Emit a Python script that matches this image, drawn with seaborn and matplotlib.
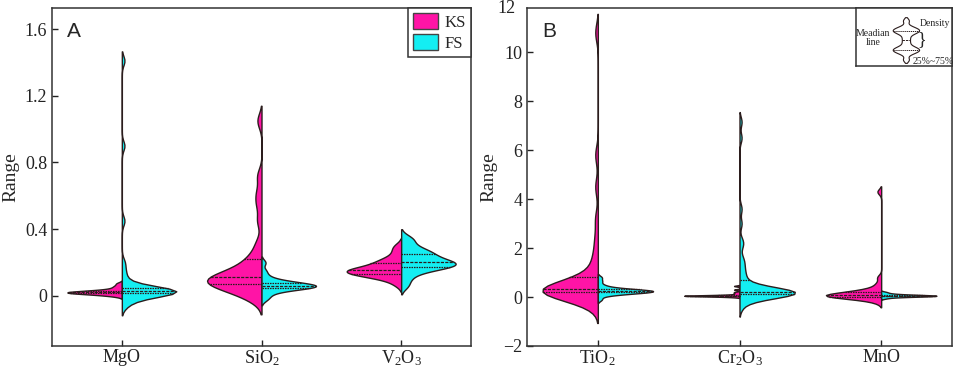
import numpy as np
import pandas as pd
import matplotlib
matplotlib.use('Agg')
import matplotlib.pyplot as plt
import matplotlib.transforms as mtransforms
from matplotlib.patches import Patch
import seaborn as sns

sns.set_style('ticks')
plt.rcParams['font.family'] = ['Liberation Serif', 'DejaVu Serif']
plt.rcParams['mathtext.fontset'] = 'custom'
plt.rcParams['mathtext.rm'] = 'Liberation Serif'
plt.rcParams['mathtext.it'] = 'Liberation Serif'

groups = ['KS', 'FS']
colors = {'KS': '#ff14a6', 'FS': '#14eef2'}
edge = '#2b1d1d'

# panel A
oxides_a = ['MgO', 'SiO2', 'V2O3']
labels_a = ['MgO', 'SiO$_2$', 'V$_2$O$_3$']
mgo_ks = [0.0, 0.005, 0.01, 0.012, 0.015, 0.017, 0.018, 0.02, 0.02, 0.021, 0.022,
          0.023, 0.025, 0.027, 0.03, 0.032, 0.035, 0.04, 0.05, 0.06, 0.075]
mgo_fs = [-0.06, -0.04, -0.02, -0.01, 0.0, 0.005, 0.01, 0.012, 0.015, 0.018, 0.02,
          0.022, 0.024, 0.025, 0.026, 0.028, 0.03, 0.032, 0.034, 0.036, 0.038, 0.04,
          0.042, 0.044, 0.045, 0.06, 0.08, 0.11, 0.15, 0.2, 0.45, 0.9, 1.41]
sio2_ks = [-0.02, 0.0, 0.02, 0.04, 0.05, 0.06, 0.065, 0.07, 0.075, 0.08, 0.09, 0.1,
           0.105, 0.11, 0.115, 0.12, 0.13, 0.14, 0.16, 0.18, 0.2, 0.22, 0.26, 0.32,
           0.45, 0.55, 0.62, 0.72, 1.05]
sio2_fs = [-0.02, 0.0, 0.02, 0.03, 0.04, 0.045, 0.048, 0.05, 0.052, 0.055, 0.058,
           0.06, 0.06, 0.062, 0.065, 0.068, 0.07, 0.075, 0.08, 0.085, 0.09, 0.1,
           0.12, 0.15, 0.2]
v2o3_ks = [0.07, 0.1, 0.11, 0.12, 0.125, 0.13, 0.135, 0.14, 0.145, 0.15, 0.15, 0.155,
           0.16, 0.165, 0.17, 0.18, 0.19, 0.2, 0.21, 0.22, 0.24, 0.27, 0.3]
v2o3_fs = [0.06, 0.1, 0.13, 0.15, 0.16, 0.17, 0.175, 0.18, 0.185, 0.19, 0.195, 0.2,
           0.205, 0.21, 0.22, 0.23, 0.24, 0.25, 0.26, 0.27, 0.28, 0.3, 0.33, 0.35]

# panel B
oxides_b = ['TiO2', 'Cr2O3', 'MnO']
labels_b = ['TiO$_2$', 'Cr$_2$O$_3$', 'MnO']
tio2_ks = [-0.3, -0.05, 0.05, 0.1, 0.12, 0.14, 0.16, 0.18, 0.19, 0.2, 0.22, 0.24,
           0.26, 0.28, 0.29, 0.3, 0.31, 0.32, 0.35, 0.4, 0.45, 0.5, 0.6, 0.72, 0.8,
           1.1, 1.4, 1.8, 2.4, 3.2, 4.5, 5.8, 10.8]
tio2_fs = [-0.1, 0.05, 0.1, 0.13, 0.15, 0.17, 0.18, 0.19, 0.2, 0.21, 0.22, 0.23,
           0.24, 0.24, 0.25, 0.26, 0.27, 0.28, 0.29, 0.3, 0.32, 0.34, 0.37, 0.42,
           0.5, 0.65, 0.8]
cr2o3_ks = [0.0, 0.02, 0.03, 0.035, 0.04, 0.045, 0.05, 0.05, 0.052, 0.055, 0.06,
            0.065, 0.07, 0.08, 0.1, 0.15, 0.2, 0.3, 0.45]
cr2o3_fs = [-0.4, -0.2, -0.05, 0.0, 0.03, 0.05, 0.07, 0.08, 0.1, 0.11, 0.12, 0.12,
            0.13, 0.14, 0.15, 0.16, 0.16, 0.17, 0.18, 0.19, 0.2, 0.21, 0.22, 0.23,
            0.25, 0.27, 0.28, 0.3, 0.32, 0.36, 0.38, 0.4, 0.55, 0.7, 0.85, 1.0, 1.2,
            1.4, 1.6, 2.1, 2.3, 3.0, 3.6, 6.5, 7.15]
mno_ks = [-0.2, -0.1, -0.05, 0.0, 0.0, 0.01, 0.02, 0.03, 0.04, 0.05, 0.06, 0.07,
          0.08, 0.1, 0.12, 0.15, 0.18, 0.2, 0.22, 0.25, 0.3, 0.4, 0.55, 0.8, 4.3]
mno_fs = [-0.05, 0.0, 0.01, 0.02, 0.03, 0.035, 0.04, 0.045, 0.05, 0.05, 0.055, 0.06,
          0.065, 0.07, 0.08, 0.09, 0.1, 0.12, 0.15, 0.2]

# kernel bandwidth (data units) for each half
bw_a = {'MgO': (0.008, 0.028), 'SiO2': (0.045, 0.018), 'V2O3': (0.022, 0.025)}
bw_b = {'TiO2': (0.38, 0.07), 'Cr2O3': (0.02, 0.2), 'MnO': (0.11, 0.03)}

# schematic for the key in panel B
key_vals = [0.0, 0.3, 0.4, 0.45, 0.5, 0.55, 0.6, 0.7, 0.9, 1.1, 1.3, 1.4, 1.45,
            1.5, 1.55, 1.6, 1.7, 2.0]


def draw(ax, oxide, order, ks, fs, bws):
    for grp, vals, bw in zip(groups, (ks, fs), bws):
        v = np.asarray(vals, float)
        adj = bw / (v.std(ddof=1) * len(v) ** -0.2)
        df = pd.DataFrame({'oxide': oxide, 'group': grp, 'value': v})
        sns.violinplot(data=df, x='oxide', y='value', hue='group', order=order,
                       hue_order=groups, palette=colors, split=True, dodge=True,
                       inner='quart', density_norm='width', bw_adjust=adj, cut=2,
                       width=0.78, linewidth=1.0, linecolor=edge, saturation=1,
                       legend=False, ax=ax, inner_kws=dict(linewidth=0.9))


fig = plt.figure(figsize=(9.55, 3.68), dpi=100)
ax1 = fig.add_axes([52 / 955, 22 / 368, 419 / 955, 338 / 368])
ax2 = fig.add_axes([527 / 955, 22 / 368, 425 / 955, 338 / 368])

data_a = {'MgO': (mgo_ks, mgo_fs), 'SiO2': (sio2_ks, sio2_fs), 'V2O3': (v2o3_ks, v2o3_fs)}
data_b = {'TiO2': (tio2_ks, tio2_fs), 'Cr2O3': (cr2o3_ks, cr2o3_fs), 'MnO': (mno_ks, mno_fs)}
for ox in oxides_a:
    draw(ax1, ox, oxides_a, *data_a[ox], bw_a[ox])
for ox in oxides_b:
    draw(ax2, ox, oxides_b, *data_b[ox], bw_b[ox])

for ax, labels in ((ax1, labels_a), (ax2, labels_b)):
    ax.set_xlim(-0.5, 2.5)
    ax.set_xticks(range(3))
    ax.set_xticklabels(labels)
    ax.set_xlabel('')
    ax.set_ylabel('Range', fontsize=14, labelpad=4)
    ax.tick_params(direction='in', length=4, width=1, labelsize=13, colors='#222')
    ax.tick_params(axis='x', pad=2)
    for s in ax.spines.values():
        s.set_visible(True)
        s.set_linewidth(1.1)
        s.set_color('#333')

ax1.set_ylim(-0.3, 1.726)
ax1.set_yticks([0, 0.4, 0.8, 1.2, 1.6])
ax1.set_yticklabels(['0', '0.4', '0.8', '1.2', '1.6'])
ax2.set_ylim(-2, 11.8)
ax2.set_yticks([-2, 0, 2, 4, 6, 8, 10])
trans = mtransforms.blended_transform_factory(ax2.transAxes, ax2.transData)
ax2.text(-0.028, 11.78, '12', transform=trans, ha='right', va='center', fontsize=13,
         color='#222', clip_on=False)

ax1.text(0.035, 0.93, 'A', transform=ax1.transAxes, fontsize=15,
         family='Liberation Sans', va='center')
ax2.text(0.035, 0.93, 'B', transform=ax2.transAxes, fontsize=15,
         family='Liberation Sans', va='center')

handles = [Patch(facecolor=colors[g], edgecolor='#444', label=g) for g in groups]
leg = ax1.legend(handles=handles, loc='upper right', borderaxespad=0, fancybox=False,
                 framealpha=1, edgecolor='#333', fontsize=12, handlelength=1.5,
                 handleheight=1.1, handletextpad=0.4, borderpad=0.3, labelspacing=0.2)
leg.get_frame().set_linewidth(1.1)

# key box in panel B
ins = fig.add_axes([856 / 955, (368 - 66) / 368, 96 / 955, 58 / 368])
sns.violinplot(y=key_vals, ax=ins, color='white', inner='quart', linecolor=edge,
               linewidth=0.8, width=0.55, bw_adjust=0.35, cut=1.5, saturation=1,
               inner_kws=dict(linewidth=0.7))
ins.set_xlim(-1.04, 0.96)
ins.set_ylim(-0.33, 2.64)
ins.set_xticks([])
ins.set_yticks([])
ins.set_ylabel('')
for s in ins.spines.values():
    s.set_linewidth(1.1)
    s.set_color('#333')
ins.text(0.82, 0.74, 'Density', transform=ins.transAxes, fontsize=7, ha='center', va='center')
ins.text(0.18, 0.48, 'Meadian\nline', transform=ins.transAxes, fontsize=7, ha='center',
         va='center', linespacing=0.95)
ins.text(0.80, 0.07, '25%~75%', transform=ins.transAxes, fontsize=7, ha='center', va='center')
ins.text(0.68, 0.45, '}', transform=ins.transAxes, fontsize=13, ha='center', va='center')

fig.savefig('out.png', dpi=100)
